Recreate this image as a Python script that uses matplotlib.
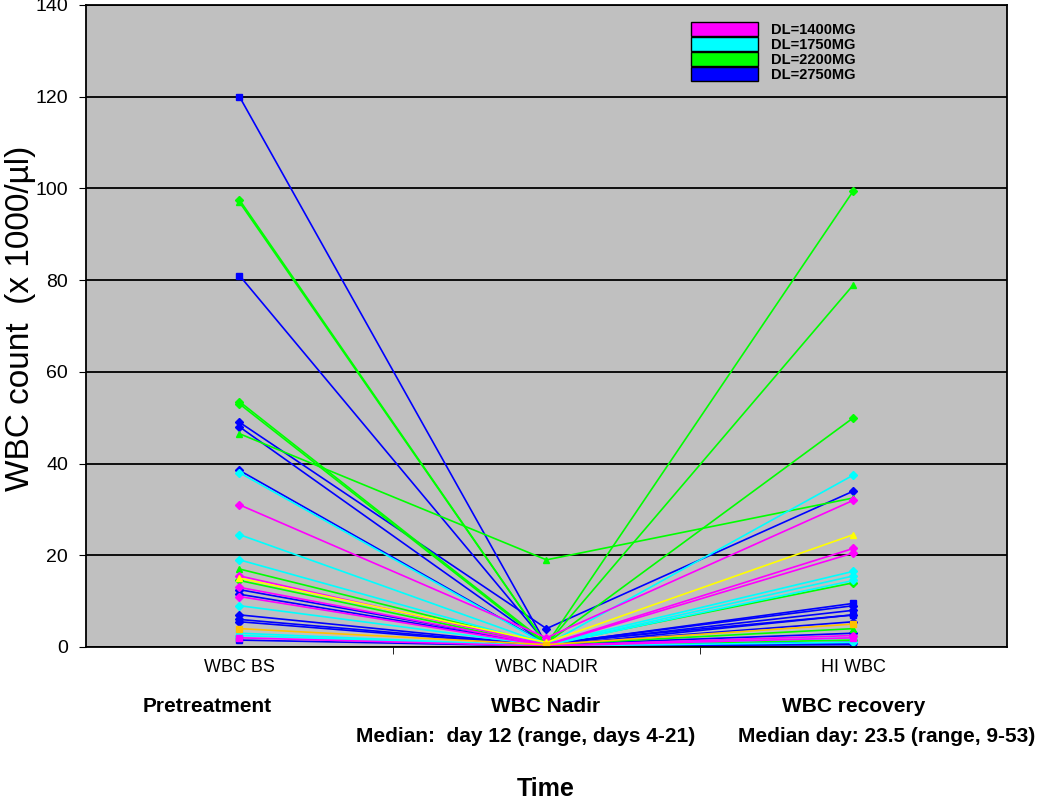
import matplotlib.pyplot as plt
from matplotlib.patches import Patch

# categories on the x axis
stages = ['WBC BS', 'WBC NADIR', 'HI WBC']

# one row per patient: pretreatment, nadir, recovery (x 1000/ul)
wbc_bs = [120, 81, 49, 48, 38.5, 12.5, 11.5, 7, 6, 5.5, 1.5,
          97.5, 97, 53.5, 53, 46.5, 17, 14.5,
          38, 24.5, 19, 9, 3, 2.5,
          31, 15.5, 13, 11, 2,
          15, 4]
wbc_nadir = [0.5, 0.8, 4, 0.5, 0.6, 0.5, 0.4, 0.3, 0.3, 0.2, 0.2,
             0.5, 0.5, 0.8, 0.5, 19, 0.5, 0.3,
             0.5, 0.6, 0.4, 0.3, 0.2, 0.2,
             2, 0.5, 0.4, 0.3, 0.2,
             1, 0.5]
wbc_hi = [9.5, 7, 34, 8, 9, 3, 5.5, 1, 0.8, 7, 0.5,
          99.5, 79, 50, 14, 32.5, 4, 1.5,
          37.5, 16.5, 15.5, 14.5, 2, 1,
          32, 21.5, 20.5, 2.5, 2,
          24.5, 5]
dose = ['2750'] * 11 + ['2200'] * 7 + ['1750'] * 6 + ['1400'] * 5 + ['other1', 'other2']

dose_colors = {'1400': '#FF00FF', '1750': '#00FFFF', '2200': '#00FF00',
               '2750': '#0000FF', 'other1': '#FFFF00', 'other2': '#FFC000'}
markers = ['s', 's', 'D', 'D', 'D', 'D', 'D', 'D', 'D', 'D', 's',
           'D', '^', 'D', 'D', '^', '^', 'D',
           'D', 'D', 'D', 'D', 's', 'D',
           'D', 'D', 'D', 'D', 's',
           '^', 's']

fig = plt.figure(figsize=(10.5, 8.01), dpi=100)
ax = fig.add_axes([0.0819, 0.1923, 0.8771, 0.8015])
ax.set_facecolor('#C0C0C0')

for i in range(len(wbc_bs)):
    ax.plot([0, 1, 2], [wbc_bs[i], wbc_nadir[i], wbc_hi[i]],
            color=dose_colors[dose[i]], lw=1.2, marker=markers[i], ms=4)

ax.set_xlim(-0.5, 2.5)
ax.set_ylim(0, 140)
ax.set_yticks(range(0, 141, 20))
ax.set_xticks([0, 1, 2])
ax.set_xticklabels(stages, fontsize=13, family='Liberation Sans')
ax.set_xticks([0.5, 1.5], minor=True)
ax.tick_params(axis='x', which='major', length=0, pad=9)
ax.tick_params(axis='x', which='minor', length=5, direction='out')
ax.tick_params(axis='y', length=5, pad=8, labelsize=14)
for lab in ax.get_yticklabels():
    lab.set_family('Liberation Sans')
ax.yaxis.grid(True, color='black', lw=1.3)
ax.set_axisbelow(True)
for s in ax.spines.values():
    s.set_linewidth(1.3)

# y axis title placed by hand so it sits near the left edge
fig.text(21 / 1050, 1 - 318 / 801, 'WBC count  (x 1000/\u00b5l)', fontsize=24,
         family='Liberation Sans', rotation=90, ha='center', va='center')

handles = [Patch(facecolor=dose_colors[d], edgecolor='black', lw=1) for d in ['1400', '1750', '2200', '2750']]
labels = ['DL=1400MG', 'DL=1750MG', 'DL=2200MG', 'DL=2750MG']
leg = ax.legend(handles, labels, loc='upper left', bbox_to_anchor=(0.643, 0.994),
                frameon=False, handlelength=4.6, handleheight=1.1, labelspacing=0.0,
                handletextpad=0.85, prop={'family': 'Liberation Sans', 'weight': 'bold', 'size': 10.5})

bold = dict(fontsize=15, fontweight='bold', family='Liberation Sans', ha='center', va='center')
fig.text(207 / 1050, 1 - 706 / 801, 'Pretreatment', **bold)
fig.text(546 / 1050, 1 - 706 / 801, 'WBC Nadir', **bold)
fig.text(526 / 1050, 1 - 736 / 801, 'Median:  day 12 (range, days 4-21)', **bold)
fig.text(854 / 1050, 1 - 706 / 801, 'WBC recovery', **bold)
fig.text(887 / 1050, 1 - 736 / 801, 'Median day: 23.5 (range, 9-53)', **bold)
fig.text(546 / 1050, 1 - 789 / 801, 'Time', fontsize=18, fontweight='bold',
         family='Liberation Sans', ha='center', va='center')

fig.savefig('out.png', dpi=100)
